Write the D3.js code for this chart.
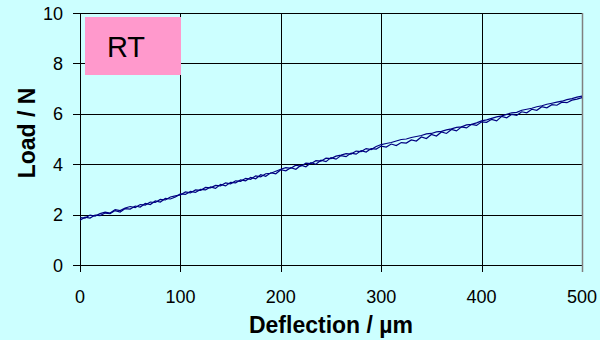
<!DOCTYPE html>
<html lang="en">
<meta charset="utf-8">
<head>
    <script src="https://d3js.org/d3.v7.min.js"></script>
</head>
<body style="margin:0; background:#ccffff;">
<svg width="600" height="340"></svg>
</body>

<script>
// deflection steps (um), every 5
var deflection = d3.range(0, 501, 5);

// load (N) - loading and unloading curves
var loading = [1.78,1.90,1.86,1.98,1.96,2.06,2.04,2.16,2.10,2.24,2.22,2.34,2.30,2.44,2.40,2.54,2.50,2.64,2.62,2.70,
    2.82,2.80,2.92,2.88,3.00,2.98,3.10,3.04,3.20,3.14,3.28,3.26,3.38,3.34,3.48,3.42,3.58,3.52,3.66,3.62,
    3.78,3.74,3.86,3.80,3.96,3.90,4.06,4.00,4.16,4.10,4.26,4.20,4.34,4.30,4.44,4.40,4.54,4.48,4.62,4.60,
    4.72,4.68,4.80,4.74,4.86,4.84,4.96,4.92,5.08,5.02,5.18,5.12,5.28,5.22,5.38,5.32,5.48,5.44,5.58,5.54,
    5.68,5.66,5.78,5.72,5.90,5.84,5.98,5.94,6.08,6.04,6.18,6.14,6.28,6.24,6.36,6.34,6.46,6.44,6.54,6.58,6.64];
var unloading = [1.88,1.86,1.98,1.94,2.04,2.10,2.06,2.20,2.16,2.26,2.32,2.28,2.40,2.38,2.50,2.48,2.60,2.58,2.70,2.74,
    2.78,2.90,2.86,2.98,2.96,3.08,3.06,3.16,3.14,3.26,3.22,3.34,3.32,3.44,3.40,3.54,3.50,3.62,3.64,3.72,
    3.80,3.86,3.84,3.96,3.92,4.04,4.02,4.14,4.12,4.24,4.22,4.32,4.36,4.42,4.40,4.52,4.50,4.62,4.58,4.70,
    4.78,4.82,4.86,4.92,4.98,5.00,5.06,5.10,5.14,5.20,5.22,5.28,5.30,5.36,5.40,5.46,5.48,5.56,5.58,5.64,
    5.72,5.76,5.82,5.88,5.92,5.98,6.04,6.06,6.14,6.18,6.22,6.28,6.32,6.38,6.42,6.46,6.50,6.56,6.60,6.66,6.70];

var xTicks = [0, 100, 200, 300, 400, 500];
var yTicks = [0, 2, 4, 6, 8, 10];

var svg = d3.select("svg");
var pLeft = 80, pTop = 13, pRight = 582, pBottom = 265;

var x = d3.scaleLinear().domain([0, 500]).range([pLeft, pRight]);
var y = d3.scaleLinear().domain([0, 10]).range([pBottom, pTop]);

svg.append("rect").attr("width", 600).attr("height", 340).attr("fill", "#ccffff");

// gridlines
svg.selectAll(".hgrid").data(yTicks).enter().append("line")
    .attr("x1", pLeft - 7).attr("x2", pRight)
    .attr("y1", function(d) { return Math.round(y(d)) + 0.5; })
    .attr("y2", function(d) { return Math.round(y(d)) + 0.5; })
    .attr("stroke", "#000").attr("stroke-width", 1);

svg.selectAll(".vgrid").data(xTicks).enter().append("line")
    .attr("x1", function(d) { return Math.round(x(d)) + 0.5; })
    .attr("x2", function(d) { return Math.round(x(d)) + 0.5; })
    .attr("y1", pTop).attr("y2", pBottom + 7)
    .attr("stroke", function(d) { return d == 500 ? "#808080" : "#000"; })
    .attr("stroke-width", function(d) { return d == 500 ? 1.5 : 1; });

// tick labels
svg.selectAll(".ylab").data(yTicks).enter().append("text")
    .attr("x", 63).attr("y", function(d) { return y(d) + 6.5; })
    .attr("text-anchor", "end")
    .attr("font-family", "Liberation Sans, Arial, sans-serif")
    .attr("font-size", "18px")
    .text(function(d) { return d; });

svg.selectAll(".xlab").data(xTicks).enter().append("text")
    .attr("x", function(d) { return x(d); }).attr("y", 303)
    .attr("text-anchor", "middle")
    .attr("font-family", "Liberation Sans, Arial, sans-serif")
    .attr("font-size", "18px")
    .text(function(d) { return d; });

// axis titles
svg.append("text")
    .attr("x", 331).attr("y", 333)
    .attr("text-anchor", "middle")
    .attr("font-family", "Liberation Sans, Arial, sans-serif")
    .attr("font-size", "23px").attr("font-weight", "bold")
    .text("Deflection / µm");

svg.append("text")
    .attr("transform", "translate(35,133) rotate(-90)")
    .attr("text-anchor", "middle")
    .attr("font-family", "Liberation Sans, Arial, sans-serif")
    .attr("font-size", "23px").attr("font-weight", "bold")
    .text("Load / N");

// RT label box
svg.append("rect")
    .attr("x", 85).attr("y", 17).attr("width", 96).attr("height", 58)
    .attr("fill", "#ff99cc");
svg.append("text")
    .attr("x", 126).attr("y", 57)
    .attr("text-anchor", "middle")
    .attr("font-family", "Liberation Sans, Arial, sans-serif")
    .attr("font-size", "29px")
    .text("RT");

// data lines
var line = d3.line()
    .x(function(d, i) { return x(deflection[i]); })
    .y(function(d) { return y(d); });

[loading, unloading].forEach(function(s) {
    svg.append("path")
        .datum(s)
        .attr("d", line)
        .attr("fill", "none")
        .attr("stroke", "#000080")
        .attr("stroke-width", 1.2);
});
</script>
</html>
